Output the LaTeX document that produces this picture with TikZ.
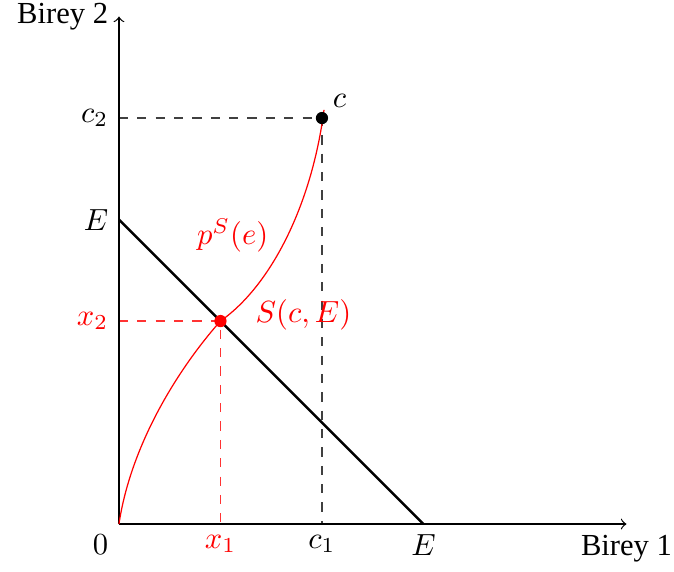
\documentclass[tikz,border=0pt]{standalone}
\usepackage{fontspec}
\setmainfont{Liberation Serif}
\usepackage{tikz}
\usetikzlibrary{positioning}

\begin{document}
\begin{tikzpicture}[
    x=1.166cm, y=1.166cm,
    axis/.style={->, thin},
    guide/.style={dashed, thin, black!75},
    budget/.style={thick},
    offer/.style={red, thin},
    dot/.style={circle, fill, inner sep=0pt, minimum size=4pt},
]
\useasboundingbox (-1.172,-0.463) rectangle (5.468,5.163);

\coordinate (O) at (0,0);
\coordinate (xmax) at (5,0);
\coordinate (ymax) at (0,5);
\coordinate (Ex) at (3,0);
\coordinate (Ey) at (0,3);
\coordinate (c) at (2,4);
\coordinate (c1) at (2,0);
\coordinate (c2) at (0,4);
\coordinate (s) at (1,2);
\coordinate (x1) at (1,0);
\coordinate (x2) at (0,2);

\draw[guide] (c2) -- (c) -- (c1);
\draw[guide, red!80] (x2) -- (s) -- (x1);

\draw[axis] (O) -- (xmax);
\draw[axis] (O) -- (ymax);
\draw[budget] (Ey) -- (Ex);

\draw[offer] (O) .. controls (0.12,0.8) and (0.6,1.55) .. (s)
    .. controls (1.5,2.35) and (1.9,3.15) .. (2.02,4.08);

\node[dot] (cdot) at (c) {};
\node[dot, red] (sdot) at (s) {};

\node[below] (xlbl) at (xmax) {Birey 1};
\node[left] (ylbl) at (ymax) {Birey 2};
\node[below left] (olbl) at (O) {$0$};
\node[below, red] (x1lbl) at (x1) {$x_1$};
\node[below] (c1lbl) at (c1) {$c_1$};
\node[below] (Exlbl) at (Ex) {$E$};
\node[left] (c2lbl) at (c2) {$c_2$};
\node[left] (Eylbl) at (Ey) {$E$};
\node[left, red] (x2lbl) at (x2) {$x_2$};
\node[above right] (clbl) at (c) {$c$};
\node[red] (plbl) at (1.12,2.84) {$p^S(e)$};
\node[red, right=2.8mm of s, yshift=2pt] (slbl) {$S(c,E)$};

\end{tikzpicture}
\end{document}
